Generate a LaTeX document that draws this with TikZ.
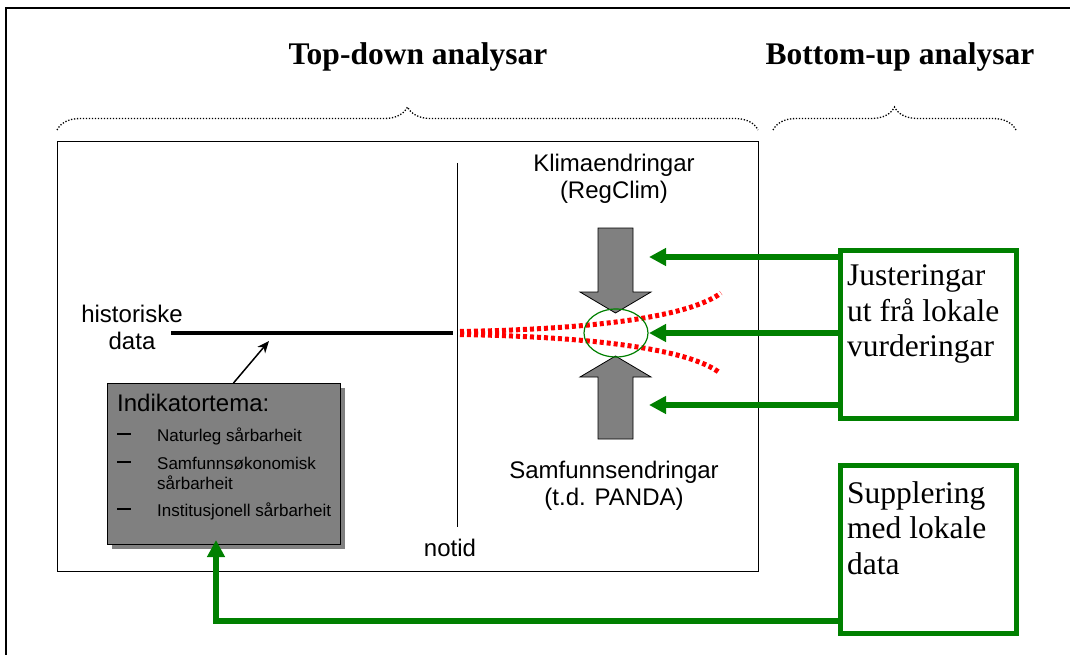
\documentclass[tikz,border=0pt]{standalone}
\usepackage{fontspec}
\setmainfont{Liberation Serif}
\setsansfont{Liberation Sans}
\usepackage{tikz}
\usetikzlibrary{shapes,arrows.meta,positioning,calc,shadows,decorations.pathreplacing}
\definecolor{kgreen}{RGB}{0,128,0}
\definecolor{kgray}{RGB}{128,128,128}
\definecolor{kred}{RGB}{255,0,0}

\begin{document}
\begin{tikzpicture}[x=1pt, y=-1pt, >=stealth]
    \tikzstyle{sans node} = [inner sep=0pt, align=center, font=\sffamily\fontsize{24}{27}\selectfont]
    \tikzstyle{serif node} = [inner sep=0pt, align=left, anchor=north west, font=\rmfamily\fontsize{31.5}{35.5}\selectfont]
    \tikzstyle{head node} = [inner sep=0pt, anchor=base, font=\rmfamily\bfseries\fontsize{31.5}{36}\selectfont]
    \tikzstyle{green box} = [draw=kgreen, line width=5pt, minimum width=176pt, minimum height=168pt, anchor=north west]
    \tikzstyle{green arrow} = [draw=kgreen, line width=6pt, -{Triangle[length=17pt,width=17pt]}]
    \tikzstyle{dotted brace} = [decorate, decoration={brace, amplitude=23pt}, line width=1.3pt, dash pattern=on 1.3pt off 1.7pt]
    \tikzstyle{block arrow} = [fill=kgray, draw=black, line width=0.8pt]
    \tikzstyle{red dots} = [draw=kred, line width=5pt, dash pattern=on 4pt off 3pt]
    \useasboundingbox (0,0) rectangle (1070,655);
    % outer frame and headings
    \draw[line width=2pt] (1070,8) -- (5.5,8) -- (5.5,655);
    \node[head node] (topdown) at (418,65) {Top-down analysar};
    \node[head node] (bottomup) at (900,65) {Bottom-up analysar};
    \draw[dotted brace] (57,130) -- (758,130);
    \draw[dotted brace] (773,130) -- (1016,130);
    % top-down frame
    \draw[line width=1pt] (57,142) rectangle (758,571);
    \draw[line width=1pt] (457,163) -- (457,527);
    \coordinate (now) at (457,333);
    \node[sans node] (hist) at (132,327) {historiske\\data};
    \node[sans node] (clim) at (614,179) {Klimaendringar\\(RegClim)};
    \node[sans node] (soc) at (614,486) {Samfunnsendringar\\(t.d. PANDA)};
    \node[sans node] (notid) at (450,548) {notid};
    \draw[line width=4pt] (171,333) -- ([xshift=-4pt]now);
    % scenarios
    \draw[red dots] (460,331.5) .. controls (600,329) and (690,316) .. (721,293);
    \draw[red dots] (460,334.5) .. controls (600,337) and (690,350) .. (720,373);
    \draw[block arrow] (598,228) -- (633,228) -- (633,292) -- (651,292) -- (615.5,313) -- (580,292) -- (598,292) -- cycle;
    \draw[block arrow] (598,439) -- (633,439) -- (633,377) -- (651,377) -- (615.5,356) -- (580,377) -- (598,377) -- cycle;
    \node[draw=kgreen, ellipse, line width=1.2pt, minimum width=64pt, minimum height=48pt] (focus) at (616,333) {};
    % indicator box
    \node[draw, fill=kgray, line width=1pt, minimum width=233pt, minimum height=161pt, anchor=north west,
          drop shadow={shadow xshift=4pt, shadow yshift=-4pt, fill=kgray, opacity=1}] (indik) at (107,383) {};
    \node[inner sep=0pt, anchor=base west, font=\sffamily\fontsize{24}{27}\selectfont] (indtitle) at (117,411.5) {Indikatortema:};
    \node[inner sep=0pt, anchor=base west, font=\sffamily\fontsize{17}{20}\selectfont] (indlist) at (117,441.7)
        {\begin{tabular}[t]{@{}l@{\hspace{26pt}}l@{}}
        \rule[6.5pt]{14pt}{2pt} & Naturleg sårbarheit\\[7.5pt]
        \rule[6.5pt]{14pt}{2pt} & Samfunnsøkonomisk\\
         & sårbarheit\\[7.5pt]
        \rule[6.5pt]{14pt}{2pt} & Institusjonell sårbarheit
        \end{tabular}};
    \coordinate (histtip) at (269,341);
    \draw[line width=1.5pt, -{Stealth[length=12pt,width=10pt]}] ([xshift=9.5pt]indik.north) -- (histtip);
    % bottom-up boxes
    \node[green box] (just) at (838,248) {};
    \node[serif node] at ([shift={(9pt,-16.5pt)}]just.north west) (justtext) {Justeringar\\ut frå lokale\\vurderingar};
    \node[green box] (supp) at (838,463) {};
    \node[serif node] at ([shift={(9pt,-18pt)}]supp.north west) (supptext) {Supplering\\med lokale\\data};
    \coordinate (k1) at (649,257);
    \coordinate (k2) at (649,333);
    \coordinate (k3) at (649,405);
    \draw[green arrow] (just.west |- k1) -- (k1);
    \draw[green arrow] (just.west |- k2) -- (k2);
    \draw[green arrow] (just.west |- k3) -- (k3);
    \coordinate (bend) at (216,621);
    \draw[green arrow, shorten >=-5pt] (supp.west |- bend) -- (bend) -- (bend |- indik.south);
\end{tikzpicture}
\end{document}
